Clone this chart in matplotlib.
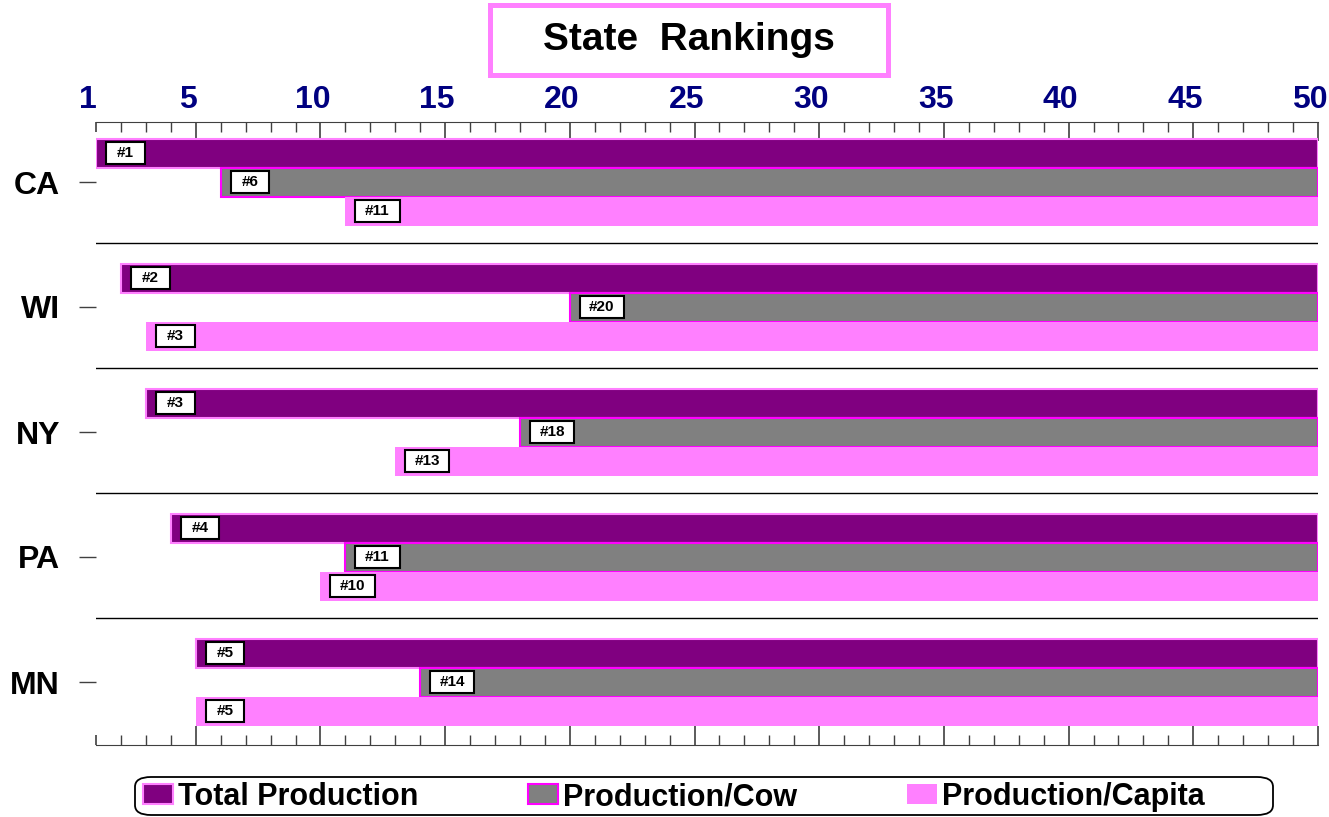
import matplotlib.pyplot as plt
import matplotlib.patches as patches
import matplotlib.transforms as mtransforms
import numpy as np

plt.rcParams['font.family'] = ['Liberation Sans', 'DejaVu Sans']

states = ['CA', 'WI', 'NY', 'PA', 'MN']
total_rank = [1, 2, 3, 4, 5]
cow_rank = [6, 20, 18, 11, 14]
capita_rank = [11, 3, 13, 10, 5]
series = ['Total Production', 'Production/Cow', 'Production/Capita']
colors = ['#800080', '#808080', '#FF80FF']
edges = ['#FF80FF', '#FF00FF', '#FF80FF']
xticks = [1, 5, 10, 15, 20, 25, 30, 35, 40, 45, 50]
xmax = 50

fig = plt.figure(figsize=(13.29, 8.17), dpi=100)
ax = fig.add_axes([96/1329, 1-745/817, (1318-96)/1329, (745-122)/817])

bh = 0.232
y = np.arange(len(states))
offsets = [-bh, 0, bh]
handles = []
for k, ranks in enumerate([total_rank, cow_rank, capita_rank]):
    ranks = np.array(ranks)
    lw = 1.5 if k < 2 else 0
    h = ax.barh(y + offsets[k], xmax - ranks, left=ranks, height=bh,
                color=colors[k], edgecolor=edges[k], linewidth=lw, zorder=2)
    handles.append(h)
    for yi, r in zip(y, ranks):
        lab = '#%d' % r
        w = 1.55 + 0.22 * (len(lab) - 2)
        ax.add_patch(patches.Rectangle((r + 0.4, yi + offsets[k] - 0.085), w, 0.17,
                                       facecolor='white', edgecolor='black',
                                       linewidth=1.5, zorder=3))
        ax.text(r + 0.4 + w / 2, yi + offsets[k], lab, ha='center', va='center',
                fontsize=11, fontweight='bold', zorder=4)

# separators between states
for yi in y[:-1]:
    ax.plot([1, xmax], [yi + 0.49, yi + 0.49], color='black', lw=1, zorder=1)

ax.set_xlim(1, xmax)
ax.set_ylim(4.504, -0.48)

ax.set_xticks(xticks)
ax.set_xticks(np.arange(1, xmax + 1), minor=True)
ax.xaxis.tick_top()
ax.tick_params(axis='x', which='both', top=True, bottom=True, direction='in',
               color='#404040', labeltop=True, labelbottom=False)
ax.tick_params(axis='x', which='major', length=14, width=1.2, pad=5,
               labelsize=23, labelcolor='#000080')
ax.tick_params(axis='x', which='minor', length=7, width=1)
shift = mtransforms.ScaledTranslation(-8/100, 0, fig.dpi_scale_trans)
for lab in ax.get_xticklabels():
    lab.set_fontweight('bold')
    lab.set_transform(lab.get_transform() + shift)
t0 = ax.xaxis.get_major_ticks()[0]
t0.tick1line.set_markersize(7)
t0.tick2line.set_markersize(7)

ax.set_yticks(y)
ax.set_yticklabels(states, fontsize=23, fontweight='bold')
ax.tick_params(axis='y', direction='out', length=12, width=1, color='#404040', pad=14)

ax.spines['left'].set_visible(False)
ax.spines['right'].set_visible(False)
ax.spines['top'].set_color('#404040')
ax.spines['bottom'].set_color('#404040')

# title box
fig.patches.append(patches.Rectangle((490/1329, 1-75/817), 398/1329, 70/817,
                                     transform=fig.transFigure, facecolor='white',
                                     edgecolor='#FF80FF', linewidth=3.6))
fig.text(689/1329, 1-40/817, 'State  Rankings', ha='center', va='center',
         fontsize=28, fontweight='bold')

# legend frame
fig.patches.append(patches.FancyBboxPatch((135/1329, 1-815/817), 1138/1329, 38/817,
                                          boxstyle='round,pad=0,rounding_size=0.012',
                                          transform=fig.transFigure, facecolor='white',
                                          edgecolor='black', linewidth=1.3))
leg = fig.legend(handles, series, loc='center left',
                 bbox_to_anchor=(143/1329, 1-797/817),
                 ncol=3, prop={'size': 22, 'weight': 'bold'}, frameon=False,
                 handlelength=0.98, handleheight=0.62, handletextpad=0.16,
                 columnspacing=3.6, borderpad=0, borderaxespad=0)

fig.savefig('out.png', dpi=100)
